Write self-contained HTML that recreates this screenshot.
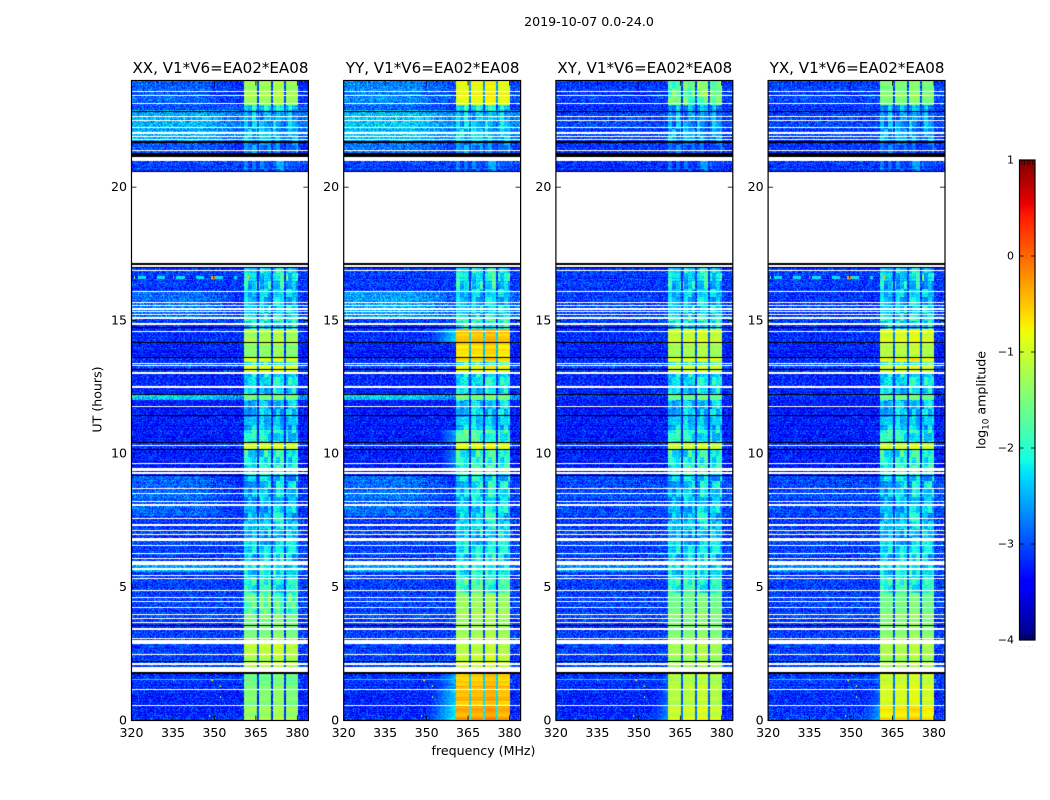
<!DOCTYPE html>
<html>
<head>
<meta charset="utf-8">
<title>2019-10-07 0.0-24.0</title>
<style>
html,body{margin:0;padding:0;background:#fff;}
#stage{position:relative;width:1050px;height:800px;overflow:hidden;background:#fff;}
canvas{position:absolute;display:block;}
svg{position:absolute;left:0;top:0;}
text{font-family:"DejaVu Sans","Liberation Sans",sans-serif;fill:#000;}
</style>
</head>
<body>
<div id="stage">
<svg id="overlay" width="1050" height="800">
<text x="589" y="26" font-size="12.6" text-anchor="middle">2019-10-07 0.0-24.0</text>
<text x="483.5" y="755" font-size="12.6" text-anchor="middle">frequency (MHz)</text>
<text x="0" y="0" font-size="12.6" text-anchor="middle" transform="translate(101.5,399.5) rotate(-90)">UT (hours)</text>
<text x="0" y="0" font-size="12.6" text-anchor="middle" transform="translate(985.5,400) rotate(-90)">log<tspan font-size="8.8" dy="3">10</tspan><tspan dy="-3"> amplitude</tspan></text>
</svg>
</div>
<script>
// ---- chart values (log10 amplitude) ----
const panelTitles = ['XX, V1*V6=EA02*EA08', 'YY, V1*V6=EA02*EA08', 'XY, V1*V6=EA02*EA08', 'YX, V1*V6=EA02*EA08'];
const freqTicks = [320, 335, 350, 365, 380];
const hourTicks = [0, 5, 10, 15, 20];
const colorTicks = [1, 0, -1, -2, -3, -4];
const segmentStart = [0, 0.6, 1.2, 1.85, 2.5, 3, 4, 4.8, 5.6, 6, 7.7, 9.2, 10.2, 10.45, 10.9, 12.02, 12.21, 13.05, 13.3, 13.46, 13.6, 14.2, 14.7, 15.1, 16.1, 17.1, 20.6, 21.2, 21.7, 22.9, 23.1];
const backgroundXX = [-3.15,-3.15,-3.1,-3,-3,-3,-3,-3,-2.5,-3,-2.8,-3.2,-3.1,-3.2,-3.2,-2.3,-3.15,-3,-3,-3.1,-3.2,-3.1,-3.05,-2.75,-3.05,-3,-3,-2.85,-2.45,-2.9,-2.85];
const backgroundYY = [-3.15,-3.15,-3.1,-3,-3,-3,-3,-3,-2.5,-3,-2.75,-3.2,-3.1,-3.2,-3.2,-2.3,-3.15,-3,-3,-3.1,-3.2,-3.1,-3.05,-2.5,-3.05,-3,-3,-2.7,-2.35,-2.8,-2.65];
const backgroundXY = [-3.15,-3.15,-3.1,-3,-3,-3,-3,-3,-2.6,-3,-2.95,-3.2,-3.1,-3.2,-3.2,-3.1,-3.15,-3,-3,-3.1,-3.2,-3.1,-3.05,-3,-3.05,-3,-3.1,-3.05,-3,-3.1,-3.05];
const backgroundYX = [-3.05,-3.1,-3.05,-3,-3,-3,-3,-3,-2.6,-3,-2.95,-3.2,-3.1,-3.2,-3.2,-3.1,-3.15,-3,-3,-3.1,-3.2,-3.1,-3.05,-3.05,-3.05,-3,-3.05,-3.05,-3,-3.05,-3];
const subbandXX = [-1.35,-1.45,-1.6,-1.2,-1.1,-1.5,-1.75,-2.15,-2.25,-2.4,-2.45,-2.15,-1,-2.25,-2.5,-1.5,-2.3,-0.95,-2.1,-1,-1.4,-1.25,-2.2,-2.4,-2.3,-3,-3,-2.8,-2.5,-2.2,-1.3];
const subbandYY = [-0.4,-0.45,-0.55,-1.05,-1.15,-1.25,-1.35,-1.95,-2.2,-2.3,-2.25,-2,-0.9,-1.95,-2.4,-1.5,-2.25,-0.85,-2.05,-0.7,-0.65,-0.5,-2.05,-2.4,-2.2,-3,-3,-2.75,-2.4,-2.1,-0.85];
const subbandXY = [-1.05,-1.15,-1.2,-1.3,-1.25,-1.45,-1.6,-2.1,-2.25,-2.4,-2.4,-2.1,-1.05,-2.2,-2.45,-1.6,-2.3,-1.05,-2.05,-0.95,-1.25,-1.05,-2.2,-2.4,-2.3,-3,-3.1,-3,-2.6,-2.55,-1.65];
const subbandYX = [-0.75,-0.95,-1.05,-1.25,-1.2,-1.4,-1.6,-2.1,-2.25,-2.4,-2.4,-2.05,-1.05,-2.15,-2.45,-1.55,-2.3,-1,-2.05,-0.85,-1.15,-0.95,-2.3,-2.4,-2.4,-3,-3.05,-3,-2.6,-2.55,-1.5];
const skirtYY = [-2.2,-2.3,-2.5,-9,-9,-9,-9,-9,-9,-9,-9,-2.7,-9,-2.6,-9,-9,-9,-9,-9,-9,-9,-2.3,-9,-9,-9,-9,-9,-9,-9,-9,-9];
const skirtXY = [-2.7,-2.8,-2.9,-9,-9,-9,-9,-9,-9,-9,-9,-9,-9,-9,-9,-9,-9,-9,-9,-9,-9,-9,-9,-9,-9,-9,-9,-9,-9,-9,-9];
const skirtYX = [-2.6,-2.8,-2.9,-9,-9,-9,-9,-9,-9,-9,-9,-9,-9,-9,-9,-9,-9,-9,-9,-9,-9,-9,-9,-9,-9,-9,-9,-9,-9,-9,-9];
const subbandLow = [360.6, 365.9, 371.0, 375.8];
const subbandHigh = [365.2, 370.3, 375.1, 380.1];
const subbandOffset = [0, 0.02, 0.1, -0.02];
const whiteStart = [0.56,1.15,1.85,1.99,2.1,2.48,2.88,3.09,3.41,3.69,3.81,3.975,4.24,4.46,4.61,4.875,5.32,5.44,5.68,5.85,6.09,6.25,6.56,6.75,6.96,7.14,7.33,7.575,8.08,8.21,8.51,8.7,9.28,9.375,9.64,10.31,11.77,12.48,12.54,13.02,13.31,13.39,14.6,14.85,15.09,15.24,15.34,15.43,15.56,15.68,16.08,16.86,17,17.17,21,21.38,21.78,21.9,22,22.24,22.5,22.65,23.14,23.44,23.59];
const whiteEnd = [0.6,1.2,1.97,2.02,2.19,2.51,3.04,3.13,3.49,3.73,3.85,4.01,4.28,4.5,4.65,4.91,5.36,5.48,5.74,6,6.13,6.31,6.6,6.86,7,7.18,7.37,7.61,8.14,8.25,8.55,8.74,9.34,9.49,9.67,10.35,11.81,12.51,12.58,13.08,13.35,13.44,14.64,14.91,15.15,15.28,15.38,15.49,15.6,15.71,16.13,16.91,17.1,20.6,21.15,21.41,21.82,21.94,22.09,22.28,22.54,22.69,23.18,23.48,23.63];
const blackStart = [1.78,2.22,3.56,5.66,9.2,10.17,10.44,11.45,12.22,13.16,13.6,14.18,14.75,16.99,17.1,20.6,21.16,21.69,22.82];
const blackEnd = [1.85,2.25,3.6,5.68,9.24,10.2,10.48,11.48,12.26,13.2,13.64,14.22,14.78,17.02,17.17,20.64,21.31,21.75,22.89];
const spikeHour = [16.63,16.63,16.63,16.63,16.63,16.63,1.55,1.55,1.55,0.2,0.9,1.3];
const spikeFreq = [321,335,349,350,362,376,335,349,362,348,352,352];
const spikeLevel = [-1.3,-0.2,-0.4,-0.2,-0.5,-1.2,-0.6,-0.5,-0.5,-0.9,-1.2,-1.2];
const spikeLineHour = [16.63, 1.55];
const spikeLineLevel = [-2.25, -2.35];
// fixed small dither table used only as pixel texture on top of the values above
const speckle = [0.31,-0.72,0.05,0.88,-0.41,-0.13,0.66,-0.94,0.22,0.47,-0.58,0.93,-0.27,0.11,-0.83,0.74,-0.06,0.39,-0.65,0.57,-0.35,0.82,-0.19,-0.77,0.16,0.61,-0.49,0.01,0.97,-0.88,0.28,-0.31,0.7,-0.54,0.43,-0.09,-0.68];

// ---- axis functions ----
const panelLeft = [131.5, 343.7, 555.9, 768.1];
const panelWidth = 176.9, plotTop = 80.5, plotHeight = 640;
const freqMin = 320, freqMax = 384, hourMin = 0, hourMax = 24;
function xScale(panel, mhz){ return panelLeft[panel] + (mhz - freqMin) / (freqMax - freqMin) * panelWidth; }
function yScale(hour){ return plotTop + plotHeight - (hour - hourMin) / (hourMax - hourMin) * plotHeight; }
function piece(t, xs, ys){
  for(let i = 1; i < xs.length; i++){
    if(t <= xs[i]) return ys[i-1] + (ys[i]-ys[i-1]) * (t-xs[i-1]) / (xs[i]-xs[i-1]);
  }
  return ys[ys.length-1];
}
function jet(value){
  const t = Math.max(0, Math.min(1, (value + 4) / 5));
  return [
    255 * piece(t, [0,.35,.66,.89,1], [0,0,1,1,.5]),
    255 * piece(t, [0,.125,.375,.64,.91,1], [0,0,1,1,0,0]),
    255 * piece(t, [0,.11,.34,.65,1], [.5,1,1,0,0])
  ];
}
function inAny(hour, starts, ends){
  for(let i = 0; i < starts.length; i++){ if(hour >= starts[i] && hour < ends[i]) return true; }
  return false;
}
function segmentOf(hour){
  let s = 0;
  for(let i = 0; i < segmentStart.length; i++){ if(hour >= segmentStart[i]) s = i; }
  return s;
}
function tex(c, r){ return speckle[(c*17 + r*31 + (c*r)%23) % speckle.length] * 0.6 + speckle[(c*c + 3*r*r + 5) % speckle.length] * 0.4; }

const backgrounds = [backgroundXX, backgroundYY, backgroundXY, backgroundYX];
const subbands = [subbandXX, subbandYY, subbandXY, subbandYX];
const skirts = [null, skirtYY, skirtXY, skirtYX];
const nChan = 177, nRows = 640;

function cellValue(panel, seg, freq, hour, c, r){
  const bg = backgrounds[panel][seg];
  const rfi = subbands[panel][seg];
  let v = bg - 0.08 + tex(c, r) * 0.62;
  if(bg > -2.9 && freq > 345) v -= Math.min(0.3, (freq - 345) * 0.02);
  const skirt = skirts[panel] ? skirts[panel][seg] : -9;
  if(skirt > -9 && freq < 360.6 && freq > 345){
    v = Math.max(v, skirt - (360.6 - freq) * 0.1 + tex(c, r) * 0.25);
  }
  if(freq >= 360.6 && freq <= 380.1){
    let sb = -1;
    for(let i = 0; i < subbandLow.length; i++){ if(freq >= subbandLow[i] && freq <= subbandHigh[i]) sb = i; }
    if(sb >= 0){
      const cb = c >> 2, rb = r >> 3;
      const patch = rfi < -1.6
        ? speckle[(cb*13 + rb*7 + (cb*rb)%11) % speckle.length] * 0.42 + tex(c, r) * 0.34
        : tex(c, r) * 0.07 + speckle[(r>>2) % speckle.length] * 0.13;
      v = Math.max(v, rfi + subbandOffset[sb] + patch);
    } else {
      v = Math.max(v, rfi - 1.8 + tex(c, r) * 0.2);
    }
  }
  return v;
}
function spikeAt(panel, hour, freq, v){
  if(panel === 0 || panel === 3){
    if(Math.abs(hour - spikeLineHour[0]) < 0.04 && freq < 358 && ((freq|0) % 7 < 3)) v = Math.max(v, spikeLineLevel[0]);
  }
  if(Math.abs(hour - spikeLineHour[1]) < 0.02 && freq < 360) v = Math.max(v, spikeLineLevel[1]);
  for(let i = 0; i < spikeHour.length; i++){
    if((panel === 0 || panel === 3 || spikeHour[i] < 10) && Math.abs(hour - spikeHour[i]) < 0.04 && Math.abs(freq - spikeFreq[i]) < 0.26) v = Math.max(v, spikeLevel[i]);
  }
  return v;
}

const stage = document.getElementById('stage');
const overlay = document.getElementById('overlay');
const NS = 'http://www.w3.org/2000/svg';

// ---- heat-map panels ----
panelTitles.forEach(function(title, panel){
  const cv = document.createElement('canvas');
  
  
  cv.width = nChan; cv.height = nRows;
  cv.style.left = Math.round(panelLeft[panel]) + 'px';
  cv.style.top = Math.round(plotTop) + 'px';
  cv.style.width = nChan + 'px';
  cv.style.height = nRows + 'px';
  const ctx = cv.getContext('2d');
  const img = ctx.createImageData(nChan, nRows);
  for(let r = 0; r < nRows; r++){
    const hour = hourMax - (r + 0.5) / nRows * (hourMax - hourMin);
    const white = inAny(hour, whiteStart, whiteEnd);
    const black = inAny(hour, blackStart, blackEnd);
    const seg = segmentOf(hour);
    const rowShift = speckle[(r * 5) % speckle.length] * 0.1;
    for(let c = 0; c < nChan; c++){
      const freq = freqMin + (c + 0.5) / nChan * (freqMax - freqMin);
      let col;
      if(black) col = [0,0,0];
      else if(white) col = [255,255,255];
      else col = jet(spikeAt(panel, hour, freq, cellValue(panel, seg, freq, hour, c, r) + rowShift));
      const k = (r * nChan + c) * 4;
      img.data[k] = col[0]; img.data[k+1] = col[1]; img.data[k+2] = col[2]; img.data[k+3] = 255;
    }
  }
  ctx.putImageData(img, 0, 0);
  stage.insertBefore(cv, overlay);

  const frame = document.createElementNS(NS, 'rect');
  
  
  frame.setAttribute('x', panelLeft[panel]);
  frame.setAttribute('y', plotTop);
  frame.setAttribute('width', panelWidth);
  frame.setAttribute('height', plotHeight);
  frame.setAttribute('fill', 'none');
  frame.setAttribute('stroke', '#000');
  frame.setAttribute('stroke-width', '1.2');
  overlay.appendChild(frame);

  const head = document.createElementNS(NS, 'text');
  
  
  head.setAttribute('x', panelLeft[panel] + panelWidth / 2 + 0.5);
  head.setAttribute('y', 73);
  head.setAttribute('font-size', '15.1');
  head.setAttribute('text-anchor', 'middle');
  head.textContent = title;
  overlay.appendChild(head);

  freqTicks.forEach(function(f){
    [[plotTop, plotTop + 5], [plotTop + plotHeight, plotTop + plotHeight - 5]].forEach(function(p){
      const t = document.createElementNS(NS, 'line');
      
      
      t.setAttribute('x1', xScale(panel, f)); t.setAttribute('x2', xScale(panel, f));
      t.setAttribute('y1', p[0]); t.setAttribute('y2', p[1]);
      t.setAttribute('stroke', '#000'); t.setAttribute('stroke-width', '0.8');
      overlay.appendChild(t);
    });
    const lab = document.createElementNS(NS, 'text');
    
    
    lab.setAttribute('x', xScale(panel, f));
    lab.setAttribute('y', 737);
    lab.setAttribute('font-size', '12.6');
    lab.setAttribute('text-anchor', 'middle');
    lab.textContent = String(f);
    overlay.appendChild(lab);
  });
  hourTicks.forEach(function(h){
    [[panelLeft[panel], panelLeft[panel] + 5], [panelLeft[panel] + panelWidth, panelLeft[panel] + panelWidth - 5]].forEach(function(p){
      const t = document.createElementNS(NS, 'line');
      
      
      t.setAttribute('x1', p[0]); t.setAttribute('x2', p[1]);
      t.setAttribute('y1', yScale(h)); t.setAttribute('y2', yScale(h));
      t.setAttribute('stroke', '#000'); t.setAttribute('stroke-width', '0.8');
      overlay.appendChild(t);
    });
    const lab = document.createElementNS(NS, 'text');
    
    
    lab.setAttribute('x', panelLeft[panel] - 4.5);
    lab.setAttribute('y', yScale(h) + 3.8);
    lab.setAttribute('font-size', '12.6');
    lab.setAttribute('text-anchor', 'end');
    lab.textContent = String(h);
    overlay.appendChild(lab);
  });
});

// ---- colour bar ----
const barLeft = 1019.5, barWidth = 15.5, barTop = 160, barHeight = 480;
function barY(v){ return barTop + (1 - v) / 5 * barHeight; }
const bar = document.createElement('canvas');


bar.width = 1; bar.height = barHeight;
bar.style.left = barLeft + 'px';
bar.style.top = barTop + 'px';
bar.style.width = barWidth + 'px';
bar.style.height = barHeight + 'px';
const bctx = bar.getContext('2d');
for(let i = 0; i < barHeight; i++){
  const c = jet(1 - (i + 0.5) / barHeight * 5);
  bctx.fillStyle = 'rgb(' + c.map(Math.round).join(',') + ')';
  bctx.fillRect(0, i, 1, 1);
}
stage.insertBefore(bar, overlay);

const barFrame = document.createElementNS(NS, 'rect');


barFrame.setAttribute('x', barLeft);
barFrame.setAttribute('y', barTop);
barFrame.setAttribute('width', barWidth);
barFrame.setAttribute('height', barHeight);
barFrame.setAttribute('fill', 'none');
barFrame.setAttribute('stroke', '#000');
barFrame.setAttribute('stroke-width', '1.2');
overlay.appendChild(barFrame);

colorTicks.forEach(function(v){
  [[barLeft, barLeft + 4], [barLeft + barWidth, barLeft + barWidth - 4]].forEach(function(p){
    const t = document.createElementNS(NS, 'line');
    
    
    t.setAttribute('x1', p[0]); t.setAttribute('x2', p[1]);
    t.setAttribute('y1', barY(v)); t.setAttribute('y2', barY(v));
    t.setAttribute('stroke', '#000'); t.setAttribute('stroke-width', '0.8');
    overlay.appendChild(t);
  });
  const lab = document.createElementNS(NS, 'text');
  
  
  lab.setAttribute('x', barLeft - 5.5);
  lab.setAttribute('y', barY(v) + 3.5);
  lab.setAttribute('font-size', '11');
  lab.setAttribute('text-anchor', 'end');
  lab.textContent = String(v).replace('-', '\u2212');
  overlay.appendChild(lab);
});
[1, 2, 3, 4, 5].forEach(function(i){
  [[barTop, barTop + 5], [barTop + barHeight, barTop + barHeight - 5]].forEach(function(p){
    const t = document.createElementNS(NS, 'line');
    
    
    t.setAttribute('x1', barLeft + barWidth * i / 6); t.setAttribute('x2', barLeft + barWidth * i / 6);
    t.setAttribute('y1', p[0]); t.setAttribute('y2', p[1]);
    t.setAttribute('stroke', '#000'); t.setAttribute('stroke-width', '0.6');
    overlay.appendChild(t);
  });
});
const tiny = document.createElementNS(NS, 'text');


tiny.setAttribute('x', 1026.5);
tiny.setAttribute('y', 647);
tiny.setAttribute('font-size', '4');
tiny.setAttribute('letter-spacing', '1.4');
tiny.setAttribute('text-anchor', 'middle');
tiny.setAttribute('style', 'fill:#777');
tiny.textContent = '......';
overlay.appendChild(tiny);
</script>
</body>
</html>
